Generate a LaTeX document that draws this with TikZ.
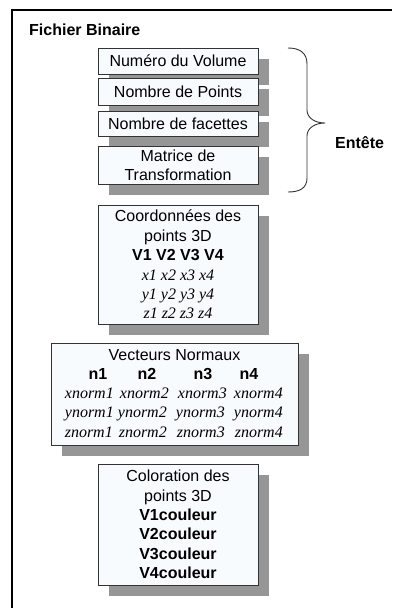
\documentclass[tikz,border=0pt]{standalone}
\usepackage{fontspec}
\setmainfont{Liberation Sans}
\newfontfamily\tms{Liberation Serif}
\usetikzlibrary{shadows}
\definecolor{boxfill}{HTML}{F8FBFE}
\definecolor{shadowgray}{HTML}{969696}
\definecolor{edge}{HTML}{333333}
\begin{document}
\begin{tikzpicture}[x=1pt,y=1pt,
  box/.style={draw=edge, line width=0.9pt, fill=boxfill, inner sep=0pt, align=center,
    font=\fontsize{16}{19.4}\selectfont,
    drop shadow={shadow xshift=11pt, shadow yshift=-11pt, fill=shadowgray, opacity=1}},
  txt/.style={inner sep=0pt, font=\fontsize{16}{19.4}\selectfont},
  itx/.style={inner sep=0pt, font=\fontsize{16}{19.4}\selectfont\tms\itshape},
  bdx/.style={inner sep=0pt, font=\fontsize{16}{19.4}\selectfont\bfseries}]
\useasboundingbox (0,0) rectangle (392,-608);
\fill[white] (0,0) rectangle (392,-608);
\draw[line width=1.2pt] (12,-608) -- (12,-10) -- (392,-10);

\node[bdx, anchor=west] (title) at (29,-30) {Fichier Binaire};

\node[box, minimum width=160pt, minimum height=26pt] (b1) at (178,-61) {Numéro du Volume};
\node[box, minimum width=160pt, minimum height=27pt] (b2) at (178,-91.5) {Nombre de Points};
\node[box, minimum width=160pt, minimum height=25pt] (b3) at (178,-123.5) {Nombre de facettes};
\node[box, minimum width=160pt, minimum height=38pt] (b4) at (178,-165) {Matrice de\\Transformation};

\draw[line width=0.9pt, edge] (288,-48) .. controls (300,-48) and (307,-53) .. (307,-64)
  -- (307,-110) .. controls (307,-118) and (315,-123) .. (325,-123)
  .. controls (315,-123) and (307,-128) .. (307,-136)
  -- (307,-178) .. controls (307,-188) and (300,-192) .. (288,-192);
\node[bdx, anchor=west] (entete) at (335,-143) {Entête};

\node[box, minimum width=160pt, minimum height=119pt] (b5) at (178,-264.5)
  {Coordonnées des\\points 3D\\\textbf{V1 V2 V3 V4}\\{\tms\itshape x1 x2 x3 x4}\\{\tms\itshape y1 y2 y3 y4}\\{\tms\itshape z1 z2 z3 z4}};

\node[box, minimum width=247pt, minimum height=102pt] (b6) at (174.5,-394) {};
\node[txt, anchor=base] (vn) at (174.5,-360) {Vecteurs Normaux};
\node[bdx, anchor=base] (n1) at (98,-379) {n1};
\node[bdx, anchor=base] (n2) at (147,-379) {n2};
\node[bdx, anchor=base] (n3) at (203,-379) {n3};
\node[bdx, anchor=base] (n4) at (249,-379) {n4};
\node[itx, anchor=base east] (x1) at (114,-398.5) {xnorm1};
\node[itx, anchor=base east] (x2) at (169,-398.5) {xnorm2};
\node[itx, anchor=base east] (x3) at (227,-398.5) {xnorm3};
\node[itx, anchor=base east] (x4) at (283,-398.5) {xnorm4};
\node[itx, anchor=base east] (y1) at (114,-417.5) {ynorm1};
\node[itx, anchor=base east] (y2) at (167,-417.5) {ynorm2};
\node[itx, anchor=base east] (y3) at (225,-417.5) {ynorm3};
\node[itx, anchor=base east] (y4) at (283,-417.5) {ynorm4};
\node[itx, anchor=base east] (z1) at (113,-437) {znorm1};
\node[itx, anchor=base east] (z2) at (167,-437) {znorm2};
\node[itx, anchor=base east] (z3) at (225,-437) {znorm3};
\node[itx, anchor=base east] (z4) at (283,-437) {znorm4};

\node[box, minimum width=160pt, minimum height=121pt] (b7) at (178,-524.5)
  {Coloration des\\points 3D\\\textbf{V1couleur}\\\textbf{V2couleur}\\\textbf{V3couleur}\\\textbf{V4couleur}};
\end{tikzpicture}
\end{document}
